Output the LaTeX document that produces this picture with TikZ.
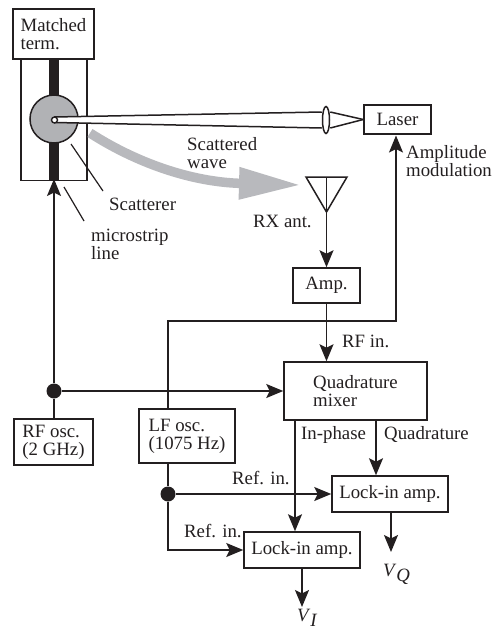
\documentclass[tikz,border=0pt]{standalone}
\usepackage{fontspec}
\setmainfont{Liberation Serif}
\usetikzlibrary{arrows.meta,positioning,shapes.geometric}
\definecolor{ink}{RGB}{35,31,32}
\definecolor{wave}{RGB}{184,185,189}
\tikzset{
  blockbox/.style={draw=ink,line width=1.5pt,fill=white,inner sep=0pt,align=left,text=ink},
  textlabel/.style={inner sep=0pt,anchor=west,align=left,text=ink},
  sig/.style={ink,line width=1.5pt},
  sigarrow/.style={sig,-{Stealth[length=17pt,width=14pt,inset=3.5pt]}},
  junction/.style={circle,fill=ink,inner sep=0pt,minimum size=15pt},
  every node/.style={font=\fontsize{18.8}{18}\selectfont}
}
\newcommand{\voltage}[1]{\textit{V}\raisebox{-0.6ex}{\textit{#1}}}
\begin{document}
\begin{tikzpicture}[x=1pt,y=-1pt]
  \useasboundingbox (0,0) rectangle (497,633);
  % sample holder
  \node[draw=ink,line width=1.5pt,minimum width=66pt,minimum height=122pt,inner sep=0pt] (board) at (54,119.5) {};
  \node[fill=ink,minimum width=10pt,minimum height=122pt,inner sep=0pt] (strip) at (54,119.5) {};
  \node[blockbox,minimum width=81pt,minimum height=50pt] (term) at (53.5,34) {Matched\\term.};
  \node[circle,draw=ink,line width=1.5pt,fill=wave!96!black,minimum size=48pt,inner sep=0pt] (scat) at (54,119) {};
  \coordinate (beamtop) at (54,117);
  \coordinate (beambot) at (55,122.5);
  % laser and lens
  \node[blockbox,minimum width=67pt,minimum height=29pt,align=center] (laser) at (397.5,119.5) {Laser};
  \fill[white] (beamtop) -- (324,112) -- (324,128) -- (beambot) -- cycle;
  \node[ellipse,draw=ink,line width=1.5pt,fill=white,minimum width=7pt,minimum height=27pt,inner sep=0pt] (lens) at (326,120) {};
  \draw[sig] (beamtop) -- (lens.west |- 0,112);
  \draw[sig] (beambot) -- (lens.west |- 0,128);
  \draw[sig] (lens.east |- 0,112) -- (laser.west);
  \draw[sig] (lens.east |- 0,128) -- (laser.west);
  \node[circle,draw=ink,line width=1.4pt,fill=white,minimum size=6pt,inner sep=0pt] (hole) at (54.5,120) {};
  % scattered wave
  \coordinate (wavestart) at (90,133);
  \coordinate (wavetip) at (301,185);
  \draw[wave,line width=9.5pt,-{Triangle[length=62pt,width=30pt]}] (wavestart) .. controls (135,162) and (190,182) .. (wavetip);
  % receiver
  \node[blockbox,minimum width=67pt,minimum height=35pt,align=center] (amp) at (326.5,285.5) {Amp.};
  \coordinate (antL) at (306,177);
  \coordinate (antR) at (347,177);
  \coordinate (antT) at (326.5,177);
  \coordinate (antB) at (326.5,212);
  \draw[sig,line join=miter] (antL) -- (antR) -- (antB) -- cycle;
  \draw[sig] (antT) -- (antB);
  \draw[sigarrow] (antB) -- (amp.north);
  \node[blockbox,minimum width=143pt,minimum height=58pt] (mixer) at (355.5,391) {Quadrature\\mixer};
  \draw[sigarrow] (amp.south) -- (mixer.north -| amp.south);
  % oscillators
  \node[blockbox,minimum width=79pt,minimum height=46pt] (rfosc) at (53.5,442) {RF osc.\\(2 GHz)};
  \node[blockbox,minimum width=96pt,minimum height=54pt] (lfosc) at (187,436) {LF osc.\\(1075 Hz)};
  \node[junction] (rfdot) at (54,391) {};
  \node[junction] (lfdot) at (168,494) {};
  \draw[sig] (rfosc.north -| rfdot) -- (rfdot);
  \draw[sigarrow] (rfdot) -- (54,179);
  \draw[sigarrow] (rfdot) -- (mixer.west);
  \coordinate (lfup) at (168,321);
  \draw[sigarrow] (lfosc.north -| lfup) -- (lfup) -- (396,321) -- (396,135.5);
  % lock-in amplifiers
  \node[blockbox,minimum width=116pt,minimum height=36pt,align=center] (lockQ) at (390,494) {Lock-in amp.};
  \node[blockbox,minimum width=116pt,minimum height=36pt,align=center] (lockI) at (302,550) {Lock-in amp.};
  \draw[sig] (lfosc.south -| lfdot) -- (lfdot);
  \draw[sigarrow] (lfdot) -- (lockQ.west);
  \draw[sigarrow] (lfdot) -- (lfdot |- lockI.west) -- (lockI.west);
  \coordinate (phase) at (295,420);
  \coordinate (quad) at (376,420);
  \draw[sigarrow] (phase) -- (phase |- lockI.north);
  \draw[sigarrow] (quad) -- (quad |- lockQ.north);
  \coordinate (endQ) at (391,552);
  \coordinate (endI) at (302,607);
  \draw[sigarrow] (lockQ.south -| endQ) -- (endQ);
  \draw[sigarrow] (lockI.south -| endI) -- (endI);
  % leader lines
  \coordinate (scatA) at (71,144);
  \coordinate (scatB) at (103,191);
  \coordinate (stripA) at (64,187);
  \coordinate (stripB) at (84,221);
  \draw[ink,line width=1.2pt] (scatA) -- (scatB);
  \draw[ink,line width=1.2pt] (stripA) -- (stripB);
  % labels
  \foreach \n/\p/\l in {tscat/{(109,204)}/Scatterer,tstrip/{(91,244)}/{microstrip\\line},
    twave/{(187,153.5)}/{Scattered\\wave},trx/{(253,221)}/RX ant.,
    tmod/{(406,161)}/{Amplitude\\modulation},trf/{(342,341)}/RF in.,
    tphase/{(301,435)}/In-phase,tquad/{(384,434)}/Quadrature,
    trefa/{(232,478)}/Ref. in.,trefb/{(184,531)}/Ref. in.,
    tvq/{(383,574)}/\voltage{Q},tvi/{(297,618)}/\voltage{I}}{
    \node[textlabel] (\n) at \p {\l};
  }
\end{tikzpicture}
\end{document}
